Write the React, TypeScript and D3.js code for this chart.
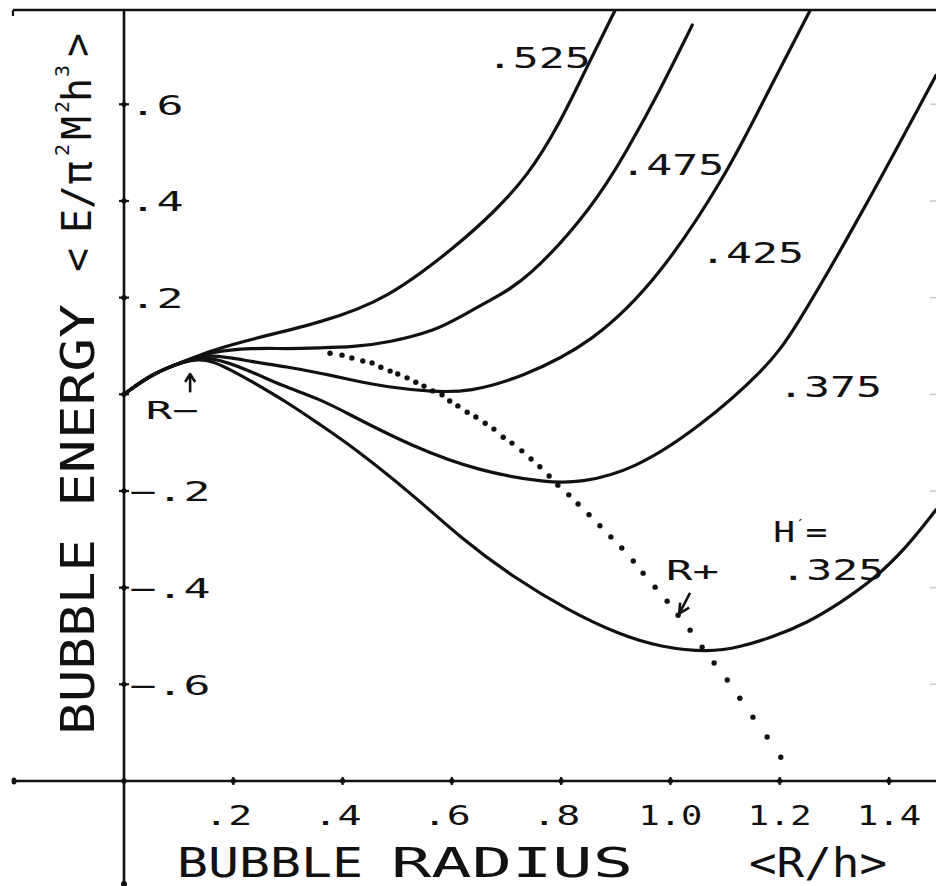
import React from 'react';
import * as d3 from 'd3';

const W = 936;
const H = 886;

// ---- axis ticks ----
const xTickValues = [0.2, 0.4, 0.6, 0.8, 1.0, 1.2, 1.4];
const xTickLabels = ['.2', '.4', '.6', '.8', '1.0', '1.2', '1.4'];
const yTickValues = [0.6, 0.4, 0.2, -0.2, -0.4, -0.6];
const yTickLabels = ['.6', '.4', '.2', '−.2', '−.4', '−.6'];

// ---- curves: bubble radius R/h vs energy, for H' values ----
const curveNames = ['.525', '.475', '.425', '.375', '.325'];

const r525 = [0, 0.053, 0.115, 0.157, 0.236, 0.359, 0.481, 0.615, 0.675, 0.738, 0.798, 0.847, 0.899];
const e525 = [0, 0.044, 0.070, 0.090, 0.115, 0.148, 0.195, 0.313, 0.375, 0.450, 0.561, 0.677, 0.795];

const r475 = [0, 0.053, 0.115, 0.157, 0.236, 0.298, 0.359, 0.419, 0.481, 0.573, 0.615, 0.670, 0.738, 0.858, 0.921, 0.981, 1.040];
const e475 = [0, 0.044, 0.070, 0.088, 0.096, 0.094, 0.096, 0.098, 0.106, 0.133, 0.160, 0.195, 0.236, 0.387, 0.505, 0.629, 0.764];

const r425 = [0, 0.053, 0.115, 0.157, 0.236, 0.298, 0.359, 0.419, 0.481, 0.565, 0.633, 0.725, 0.858, 0.981, 1.104, 1.164, 1.256];
const e425 = [0, 0.044, 0.070, 0.084, 0.067, 0.057, 0.044, 0.029, 0.015, 0.005, 0.005, 0.034, 0.106, 0.243, 0.458, 0.594, 0.795];

const r375 = [0, 0.053, 0.115, 0.157, 0.236, 0.286, 0.359, 0.408, 0.529, 0.652, 0.774, 0.835, 0.932, 1.054, 1.177, 1.224, 1.347, 1.486];
const e375 = [0, 0.044, 0.070, 0.080, 0.046, 0.019, -0.010, -0.039, -0.109, -0.160, -0.183, -0.183, -0.157, -0.068, 0.056, 0.127, 0.367, 0.660];

const r325 = [0, 0.053, 0.115, 0.157, 0.236, 0.298, 0.359, 0.419, 0.529, 0.620, 0.712, 0.811, 0.908, 0.981, 1.072, 1.127, 1.188, 1.250, 1.310, 1.371, 1.433, 1.486];
const e325 = [0, 0.044, 0.070, 0.076, 0.025, -0.016, -0.063, -0.109, -0.208, -0.301, -0.378, -0.446, -0.498, -0.523, -0.534, -0.523, -0.502, -0.473, -0.432, -0.384, -0.316, -0.239];

// ---- dotted locus of minima (R+) ----
const locusR = [0.377, 0.399, 0.417, 0.437, 0.454, 0.470, 0.487, 0.501, 0.518, 0.534, 0.549, 0.565, 0.582, 0.596, 0.611, 0.628, 0.644, 0.661, 0.677, 0.694, 0.710, 0.728, 0.745, 0.761, 0.778, 0.794, 0.814, 0.831, 0.851, 0.871, 0.891, 0.911, 0.932, 0.950, 0.972, 0.994, 1.014, 1.036, 1.058, 1.080, 1.104, 1.127, 1.151, 1.177, 1.202];
const locusE = [0.085, 0.081, 0.075, 0.069, 0.065, 0.056, 0.048, 0.042, 0.034, 0.025, 0.017, 0.007, -0.001, -0.014, -0.024, -0.037, -0.047, -0.060, -0.072, -0.089, -0.101, -0.117, -0.134, -0.150, -0.169, -0.188, -0.208, -0.227, -0.249, -0.272, -0.295, -0.318, -0.345, -0.370, -0.399, -0.428, -0.457, -0.488, -0.523, -0.556, -0.591, -0.629, -0.668, -0.709, -0.751];

// ---- annotation anchors (data coords) ----
const curveLabelR = [0.664, 0.908, 1.054, 1.197, 1.201];
const curveLabelE = [0.675, 0.454, 0.272, -0.006, -0.384];

const FONT = '"DejaVu Sans Mono", "Liberation Mono", monospace';
const INK = '#111';

export default function App() {
  const x = d3.scaleLinear().domain([0, 1.4]).range([124, 889]);
  const y = d3.scaleLinear().domain([-0.6, 0.6]).range([684.3, 104.3]);

  const line = d3
    .line<[number, number]>()
    .x((d) => x(d[0]))
    .y((d) => y(d[1]))
    .curve(d3.curveBasis);

  const series: [number[], number[]][] = [
    [r525, e525],
    [r475, e475],
    [r425, e425],
    [r375, e375],
    [r325, e325],
  ];

  const xAxisY = y(-0.8);
  const topY = y(0.795);
  const x0 = x(0);

  const xTickMarks = [0, ...xTickValues];
  const yTickMarks = [...yTickValues, 0];

  // arrow geometry
  const rmX = x(0.121);
  const rmTip = y(0.042);
  const rmTail = y(0.004);
  const rpTail: [number, number] = [x(1.036), y(-0.411)];
  const rpTip: [number, number] = [x(1.016), y(-0.454)];

  const hx = x(1.188);
  const hy = y(-0.306);

  return (
    <svg
      width={W}
      height={H}
      style={{ position: 'absolute', left: 0, top: 0, background: '#fff' }}
      fontFamily={FONT}
    >
      <rect x={0} y={0} width={W} height={H} fill="#fff" />
      <defs>
        <clipPath id="plotClip">
          <rect x={x0} y={topY - 1} width={W - x0} height={xAxisY - topY + 1} />
        </clipPath>
      </defs>

      {/* frame lines */}
      <line x1={13} x2={W} y1={topY} y2={topY} stroke={INK} strokeWidth={2.6} />
      <line x1={13} x2={13} y1={topY} y2={topY + 6} stroke={INK} strokeWidth={2.2} />
      <line x1={14} x2={W} y1={xAxisY} y2={xAxisY} stroke={INK} strokeWidth={2.6} />
      <ellipse cx={14} cy={xAxisY} rx={2.5} ry={3.5} fill={INK} />
      <line x1={x0} x2={x0} y1={topY} y2={885} stroke={INK} strokeWidth={2.6} />
      <circle cx={x0} cy={884} r={3} fill={INK} />

      {/* faint right-edge ticks */}
      {yTickMarks.map((v, i) => (
        <line key={'rt' + i} x1={930} x2={936} y1={y(v)} y2={y(v)} stroke="#999" strokeWidth={1.5} opacity={0.5} />
      ))}

      {/* x ticks */}
      {xTickMarks.map((v, i) => (
        <g key={'xt' + i}>
          <line x1={x(v)} x2={x(v)} y1={xAxisY - 4} y2={xAxisY + 4} stroke={INK} strokeWidth={2.2} />
          <circle cx={x(v)} cy={xAxisY} r={2.6} fill={INK} />
        </g>
      ))}
      {xTickLabels.map((t, i) => {
        const w = t.length === 2 ? 48 : 64;
        const cx = x(xTickValues[i]) + (t.length === 2 ? -5 : 0);
        return (
          <text
            key={'xl' + i}
            x={cx - w / 2}
            y={825}
            fontSize={27}
            fill={INK}
            textLength={w}
            lengthAdjust="spacingAndGlyphs"
          >
            {t}
          </text>
        );
      })}

      {/* y ticks */}
      {yTickMarks.map((v, i) => (
        <g key={'yt' + i}>
          <line x1={x0 - 5} x2={x0 + 5} y1={y(v)} y2={y(v)} stroke={INK} strokeWidth={2.2} />
          <circle cx={x0} cy={y(v)} r={2.6} fill={INK} />
        </g>
      ))}
      {yTickLabels.map((t, i) => (
        <text
          key={'yl' + i}
          x={129.5}
          y={y(yTickValues[i]) + 10.5}
          fontSize={27}
          fill={INK}
          textLength={27 * t.length}
          lengthAdjust="spacingAndGlyphs"
        >
          {t}
        </text>
      ))}

      {/* axis titles */}
      <text x={177} y={877} fontSize={41} fill={INK} textLength={186} lengthAdjust="spacingAndGlyphs">
        BUBBLE
      </text>
      <text x={391} y={877} fontSize={41} fill={INK} textLength={242} lengthAdjust="spacingAndGlyphs">
        RADIUS
      </text>
      <text x={749} y={877} fontSize={41} fill={INK} textLength={138} lengthAdjust="spacingAndGlyphs">
        {'<R/h>'}
      </text>

      <g transform="translate(94,735) rotate(-90)">
        <text x={0} y={0} fontSize={46} fill={INK} textLength={196} lengthAdjust="spacingAndGlyphs">
          BUBBLE
        </text>
      </g>
      <g transform="translate(94,507) rotate(-90)">
        <text x={0} y={0} fontSize={46} fill={INK} textLength={203} lengthAdjust="spacingAndGlyphs">
          ENERGY
        </text>
      </g>
      {[
        { t: '<', c: 260, sup: false },
        { t: 'E', c: 221, sup: false },
        { t: '/', c: 197, sup: false },
        { t: 'π', c: 173, sup: false },
        { t: '2', c: 150, sup: true },
        { t: 'M', c: 128, sup: false },
        { t: '2', c: 107, sup: true },
        { t: 'h', c: 90, sup: false },
        { t: '3', c: 71, sup: true },
        { t: '>', c: 45, sup: false },
      ].map((p, i) => (
        <g key={'yt2' + i} transform={`translate(${p.sup ? 69 : 91},${p.c}) rotate(-90)`}>
          <text x={0} y={0} textAnchor="middle" fontSize={p.sup ? 20 : 40} fill={INK}>
            {p.t}
          </text>
        </g>
      ))}

      {/* curves */}
      <g clipPath="url(#plotClip)">
        {series.map(([rs, es], i) => (
          <path
            key={'c' + i}
            d={line(rs.map((r, j) => [r, es[j]] as [number, number])) || ''}
            fill="none"
            stroke={INK}
            strokeWidth={3.2}
            strokeLinejoin="round"
            strokeLinecap="round"
          />
        ))}
        {locusR.map((r, i) => (
          <circle key={'d' + i} cx={x(r)} cy={y(locusE[i])} r={2.7} fill={INK} />
        ))}
      </g>

      {/* curve labels */}
      {curveNames.map((t, i) => (
        <text
          key={'cl' + i}
          x={x(curveLabelR[i])}
          y={y(curveLabelE[i])}
          fontSize={29}
          fill={INK}
          textLength={104}
          lengthAdjust="spacingAndGlyphs"
        >
          {t}
        </text>
      ))}

      {/* H'= (single text run, no overlapping pieces) */}
      <g transform={`translate(${hx},${hy}) scale(1.25,1)`}>
        <text x={0} y={0} fontSize={29} fill={INK}>
          H
          <tspan dy={-13} fontSize={14}>′</tspan>
          <tspan dy={13}>=</tspan>
        </text>
      </g>

      {/* R- label and arrow */}
      <text x={x(0.04)} y={y(-0.052)} fontSize={25} fill={INK} textLength={53} lengthAdjust="spacingAndGlyphs">
        R−
      </text>
      <line x1={rmX} x2={rmX} y1={rmTail} y2={rmTip + 1} stroke={INK} strokeWidth={2.6} />
      <path d={`M${rmX - 5},${rmTip + 8} L${rmX},${rmTip} L${rmX + 5},${rmTip + 8}`} fill="none" stroke={INK} strokeWidth={2.6} strokeLinejoin="round" />

      {/* R+ label and arrow */}
      <text x={x(0.992)} y={y(-0.384)} fontSize={27} fill={INK} textLength={53} lengthAdjust="spacingAndGlyphs">
        R+
      </text>
      <line x1={rpTail[0]} y1={rpTail[1]} x2={rpTip[0]} y2={rpTip[1]} stroke={INK} strokeWidth={2.6} />
      <path
        d={`M${rpTip[0] + 10},${rpTip[1] - 6} L${rpTip[0]},${rpTip[1]} L${rpTip[0] + 1},${rpTip[1] - 11}`}
        fill="none"
        stroke={INK}
        strokeWidth={2.6}
        strokeLinejoin="round"
      />
    </svg>
  );
}
